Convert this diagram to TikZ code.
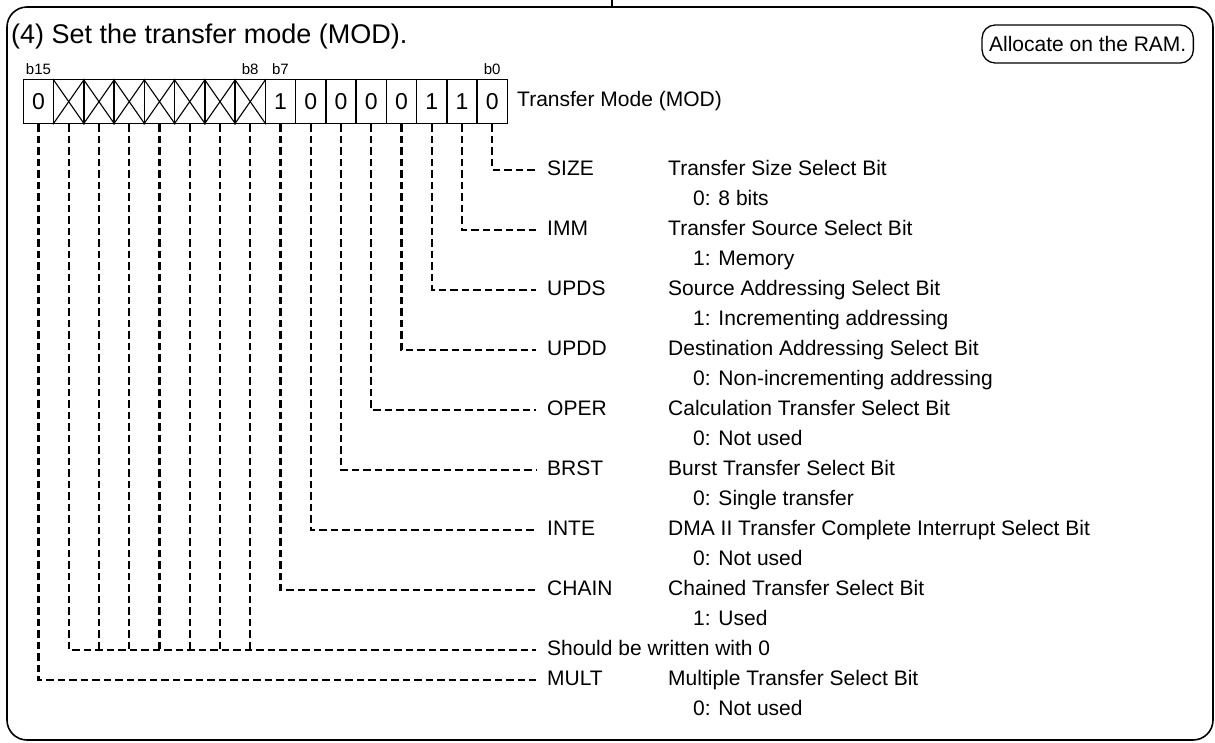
\documentclass[tikz,border=0pt]{standalone}
\usepackage{fontspec}
\setmainfont{Liberation Sans}
\begin{document}
\begin{tikzpicture}[x=1pt,y=-1pt,
  frame/.style={line width=1.6pt, rounded corners=20pt},
  cell/.style={draw, line width=1.3pt, minimum width=30.25pt, minimum height=44pt, inner sep=0pt, anchor=north west, font=\fontsize{23}{23}\selectfont},
  bitlbl/.style={anchor=south, inner sep=0pt, font=\fontsize{15}{15}\selectfont},
  lead/.style={line width=2.2pt, dash pattern=on 7.5pt off 4pt, shorten >=11pt},
  lbl/.style={anchor=west, inner sep=0pt, text height=15pt, text depth=4pt, font=\fontsize{21}{21}\selectfont},
  roundbox/.style={draw, line width=1.3pt, rounded corners=13pt, inner xsep=7pt, minimum height=38pt, font=\fontsize{21}{21}\selectfont}
]
\useasboundingbox (0,0) rectangle (1215,742);
% outer frame
\draw[frame] (7,7) rectangle (1213,740);
\coordinate (tick) at (612,0);
\draw[line width=1.6pt] (tick) -- ++(0,7);
% title
\node[anchor=base west, inner sep=0pt, font=\fontsize{27}{27}\selectfont] (title) at (11,43) {(4) Set the transfer mode (MOD).};
\node[roundbox, anchor=east] (ram) at (1194,44) {Allocate on the RAM.};
% register cells
\foreach \j/\d in {0/0,1/,2/,3/,4/,5/,6/,7/,8/1,9/0,10/0,11/0,12/0,13/1,14/1,15/0}
  \node[cell] (c\j) at ({22.7+30.25*\j},79) {\d};
\foreach \j in {1,...,7}
  \draw[line width=1.1pt] (c\j.north west) -- (c\j.south east) (c\j.north east) -- (c\j.south west);
\node[bitlbl] (b15) at ([yshift=4pt]c0.north) {b15};
\node[bitlbl] (b8) at ([yshift=4pt]c7.north) {b8};
\node[bitlbl] (b7) at ([yshift=4pt]c8.north) {b7};
\node[bitlbl] (b0) at ([yshift=4pt]c15.north) {b0};
\node[lbl] (mod) at (517,101) {Transfer Mode (MOD)};
% field rows
\foreach \n/\j/\y/\d/\v in {
  SIZE/15/170/Transfer Size Select Bit/0: 8 bits,
  IMM/14/230/Transfer Source Select Bit/1: Memory,
  UPDS/13/290/Source Addressing Select Bit/1: Incrementing addressing,
  UPDD/12/350/Destination Addressing Select Bit/0: Non-incrementing addressing,
  OPER/11/410/Calculation Transfer Select Bit/0: Not used,
  BRST/10/470/Burst Transfer Select Bit/0: Single transfer,
  INTE/9/530/DMA II Transfer Complete Interrupt Select Bit/0: Not used,
  CHAIN/8/590/Chained Transfer Select Bit/1: Used,
  MULT/0/680/Multiple Transfer Select Bit/0: Not used}{
  \node[lbl] (\n) at (547,\y) {\n};
  \node[lbl] (\n-d) at (668,\y) {\d};
  \node[lbl] (\n-v) at (693,\y+30) {\v};
  \draw[lead] (c\j.south) |- (\n.west);
}
\node[lbl] (zero) at (547,650) {Should be written with 0};
\draw[lead] (c1.south) |- (zero.west);
\foreach \j in {2,...,7}
  \draw[lead, shorten >=0pt] (c\j.south) -- (c\j.south |- zero.west);
\end{tikzpicture}
\end{document}
